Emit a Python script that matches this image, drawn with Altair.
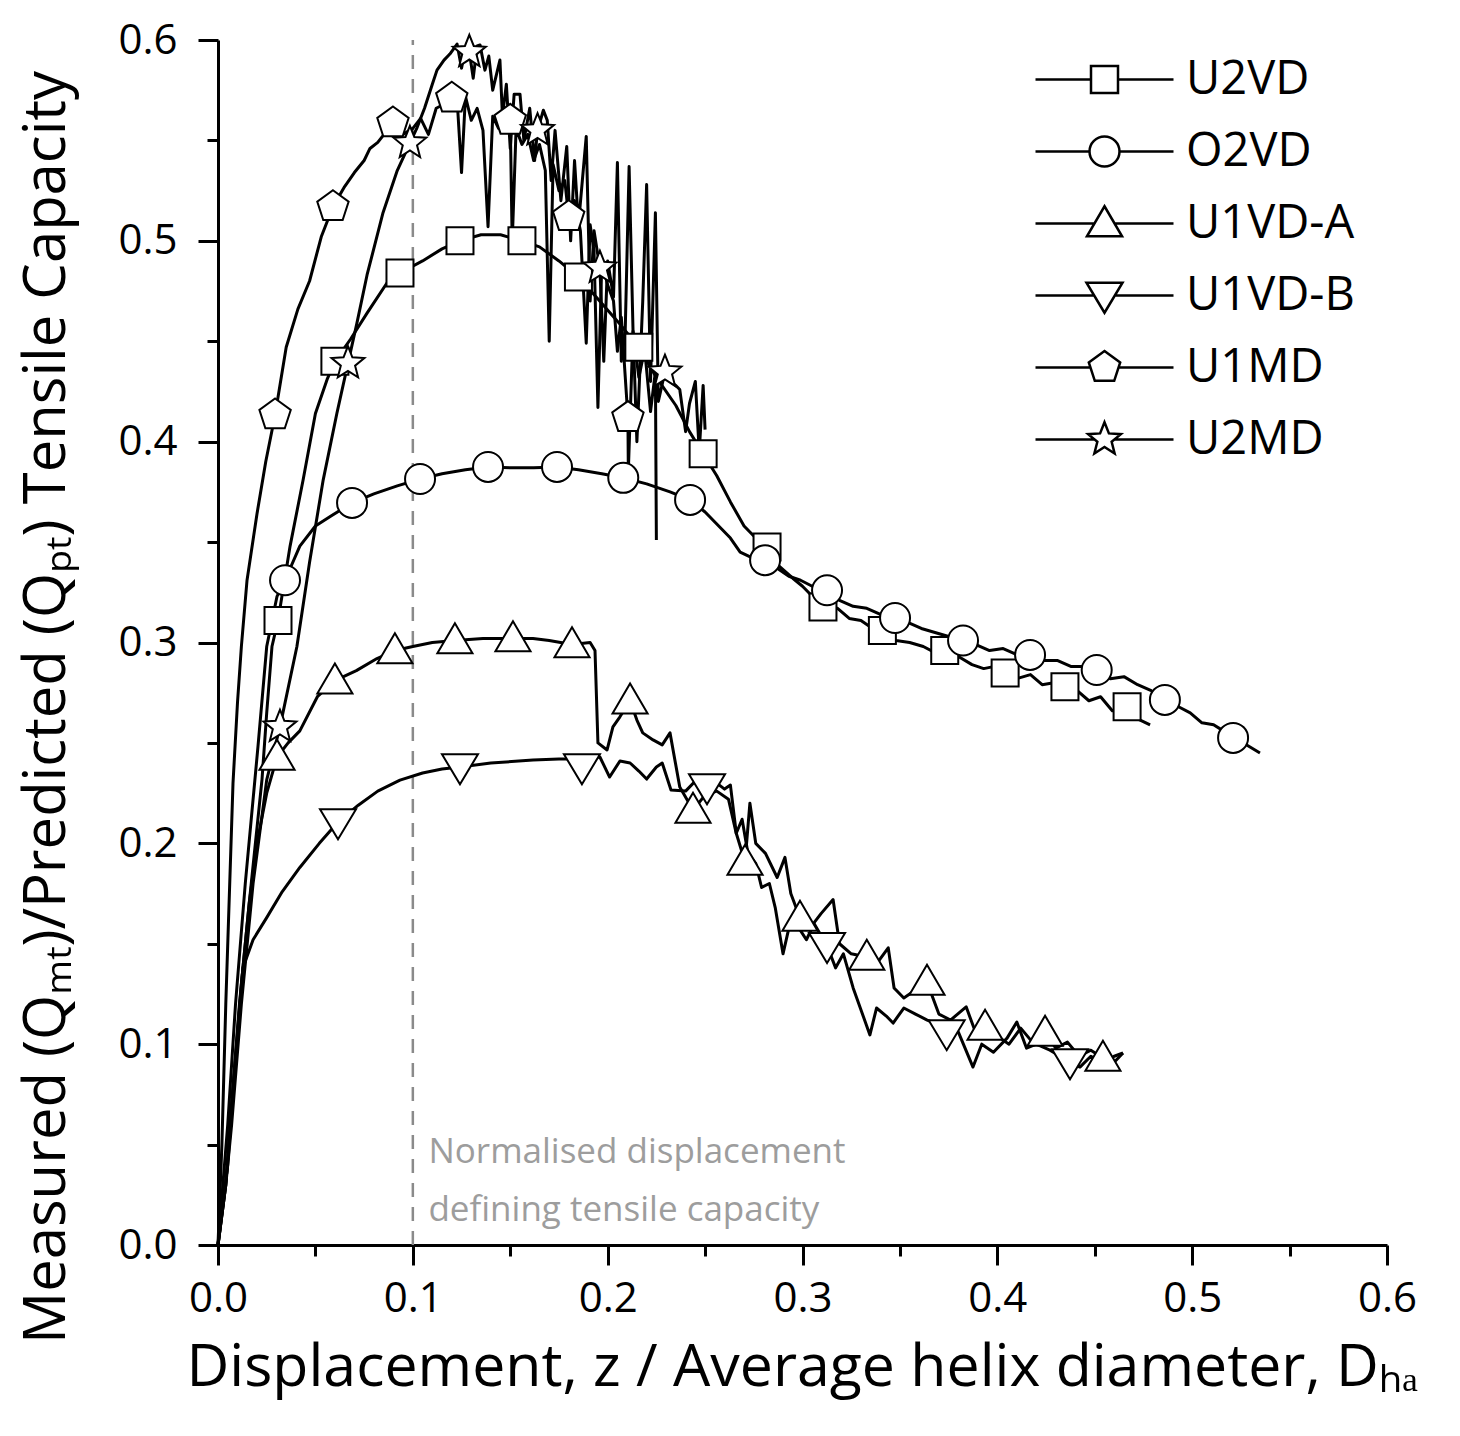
import altair as alt
import pandas as pd

SERIES = ["U2VD", "O2VD", "U1VD-A", "U1VD-B", "U1MD", "U2MD"]

# ---------------- measured curves (x = z/Dha, y = Qmt/Qpt) ----------------
U2VD_line = [(0.000, 0.000), (0.004, 0.030), (0.007, 0.070), (0.011, 0.120), (0.016, 0.170),
             (0.0226, 0.232), (0.025, 0.265), (0.0277, 0.298), (0.0308, 0.311), (0.037, 0.348),
             (0.0437, 0.381), (0.050, 0.414), (0.056, 0.431), (0.060, 0.440), (0.068, 0.451),
             (0.0765, 0.464), (0.0867, 0.479), (0.0934, 0.484), (0.105, 0.490), (0.115, 0.496),
             (0.1242, 0.500), (0.135, 0.503), (0.145, 0.503), (0.156, 0.500), (0.165, 0.497),
             (0.175, 0.490), (0.185, 0.482), (0.195, 0.471), (0.205, 0.460), (0.216, 0.447),
             (0.225, 0.432), (0.235, 0.418), (0.242, 0.405), (0.249, 0.394), (0.256, 0.383),
             (0.263, 0.370), (0.270, 0.358), (0.276, 0.352), (0.2818, 0.3476), (0.288, 0.338),
             (0.295, 0.332), (0.300, 0.328), (0.306, 0.322), (0.3105, 0.3177), (0.318, 0.317),
             (0.324, 0.312), (0.330, 0.311), (0.336, 0.307), (0.341, 0.306), (0.348, 0.301),
             (0.355, 0.300), (0.362, 0.298), (0.368, 0.295), (0.373, 0.296), (0.380, 0.293),
             (0.387, 0.289), (0.393, 0.287), (0.398, 0.288), (0.404, 0.2848), (0.410, 0.282),
             (0.417, 0.284), (0.423, 0.279), (0.429, 0.280), (0.4347, 0.278), (0.441, 0.276),
             (0.447, 0.271), (0.453, 0.273), (0.459, 0.266), (0.4666, 0.268), (0.472, 0.262),
             (0.4784, 0.259)]

O2VD_line = [(0.000, 0.000), (0.005, 0.060), (0.009, 0.120), (0.014, 0.180), (0.0205, 0.248),
             (0.025, 0.298), (0.0303, 0.323), (0.0344, 0.331), (0.042, 0.348), (0.050, 0.358),
             (0.058, 0.363), (0.0688, 0.3695), (0.080, 0.374), (0.092, 0.378), (0.1037, 0.3814),
             (0.115, 0.384), (0.127, 0.386), (0.1386, 0.3874), (0.150, 0.387), (0.162, 0.387),
             (0.174, 0.3874), (0.185, 0.386), (0.197, 0.384), (0.208, 0.382), (0.220, 0.379),
             (0.232, 0.375), (0.2423, 0.371), (0.250, 0.365), (0.257, 0.358), (0.263, 0.352),
             (0.268, 0.345), (0.2745, 0.342), (0.2808, 0.341), (0.287, 0.337), (0.293, 0.333),
             (0.299, 0.331), (0.305, 0.328), (0.3126, 0.326), (0.319, 0.321), (0.326, 0.318),
             (0.333, 0.317), (0.340, 0.314), (0.3475, 0.3122), (0.354, 0.310), (0.361, 0.307),
             (0.368, 0.305), (0.375, 0.303), (0.3824, 0.301), (0.389, 0.299), (0.396, 0.296),
             (0.403, 0.297), (0.410, 0.294), (0.4168, 0.2938), (0.424, 0.291), (0.431, 0.291),
             (0.438, 0.288), (0.445, 0.288), (0.451, 0.2863), (0.458, 0.282), (0.465, 0.283),
             (0.472, 0.279), (0.479, 0.276), (0.486, 0.2714), (0.493, 0.268), (0.499, 0.265),
             (0.505, 0.260), (0.511, 0.259), (0.516, 0.256), (0.521, 0.2525), (0.528, 0.249),
             (0.5348, 0.245)]

U1VDA_line = [(0.000, 0.000), (0.004, 0.030), (0.007, 0.070), (0.012, 0.130), (0.016, 0.170),
              (0.020, 0.200), (0.025, 0.225), (0.0303, 0.243), (0.036, 0.250), (0.042, 0.256),
              (0.051, 0.273), (0.060, 0.281), (0.071, 0.286), (0.0816, 0.292), (0.0908, 0.296),
              (0.100, 0.298), (0.110, 0.300), (0.1216, 0.301), (0.136, 0.302), (0.1514, 0.302),
              (0.1617, 0.302), (0.170, 0.301), (0.1817, 0.299), (0.191, 0.300), (0.1935, 0.296),
              (0.195, 0.250), (0.1997, 0.2465), (0.2027, 0.258), (0.2063, 0.263), (0.2115, 0.271),
              (0.215, 0.2614), (0.218, 0.255), (0.2233, 0.2515), (0.228, 0.249), (0.232, 0.255),
              (0.237, 0.228), (0.2438, 0.2166), (0.250, 0.224), (0.256, 0.226), (0.262, 0.222),
              (0.266, 0.205), (0.2705, 0.1907), (0.273, 0.220), (0.276, 0.200), (0.281, 0.195),
              (0.287, 0.183), (0.291, 0.193), (0.294, 0.175), (0.2987, 0.1628), (0.304, 0.158),
              (0.3095, 0.165), (0.3157, 0.172), (0.319, 0.150), (0.325, 0.145), (0.333, 0.1434),
              (0.338, 0.140), (0.344, 0.148), (0.347, 0.128), (0.352, 0.123), (0.358, 0.127),
              (0.3639, 0.131), (0.370, 0.115), (0.376, 0.112), (0.384, 0.1186), (0.388, 0.108),
              (0.3937, 0.1086), (0.400, 0.104), (0.406, 0.100), (0.412, 0.108), (0.418, 0.101),
              (0.4245, 0.1056), (0.430, 0.098), (0.436, 0.101), (0.442, 0.094), (0.448, 0.097),
              (0.4542, 0.0931), (0.459, 0.090), (0.4645, 0.0956)]

U1VDB_line = [(0.000, 0.000), (0.005, 0.040), (0.008, 0.080), (0.0128, 0.138), (0.018, 0.152),
              (0.025, 0.163), (0.033, 0.176), (0.042, 0.188), (0.052, 0.200), (0.0616, 0.2106),
              (0.072, 0.219), (0.082, 0.226), (0.0934, 0.2315), (0.105, 0.235), (0.115, 0.237),
              (0.1242, 0.238), (0.140, 0.240), (0.1617, 0.2415), (0.175, 0.242), (0.1868, 0.242),
              (0.196, 0.243), (0.201, 0.233), (0.2063, 0.241), (0.2115, 0.240), (0.216, 0.236),
              (0.220, 0.232), (0.225, 0.238), (0.228, 0.240), (0.2325, 0.2266), (0.240, 0.226),
              (0.246, 0.232), (0.251, 0.228), (0.256, 0.230), (0.260, 0.227), (0.263, 0.229),
              (0.266, 0.205), (0.269, 0.212), (0.272, 0.195), (0.276, 0.190), (0.279, 0.178),
              (0.283, 0.180), (0.286, 0.168), (0.290, 0.145), (0.294, 0.162), (0.298, 0.158),
              (0.302, 0.152), (0.306, 0.160), (0.3126, 0.149), (0.317, 0.138), (0.321, 0.145),
              (0.326, 0.128), (0.3346, 0.1046), (0.338, 0.118), (0.343, 0.114), (0.3465, 0.1105),
              (0.352, 0.118), (0.358, 0.115), (0.364, 0.112), (0.369, 0.110), (0.374, 0.1056),
              (0.380, 0.106), (0.3875, 0.0886), (0.392, 0.100), (0.398, 0.096), (0.405, 0.103),
              (0.410, 0.111), (0.415, 0.098), (0.420, 0.100), (0.427, 0.097), (0.4373, 0.0911),
              (0.4424, 0.0886), (0.448, 0.094), (0.455, 0.090), (0.460, 0.094), (0.4645, 0.0956)]

U1MD_line = [(0.000, 0.000), (0.002, 0.050), (0.004, 0.120), (0.0077, 0.230), (0.010, 0.270),
             (0.012, 0.298), (0.0149, 0.331), (0.020, 0.364), (0.0245, 0.390), (0.0293, 0.4133),
             (0.035, 0.447), (0.041, 0.466), (0.047, 0.480), (0.053, 0.502), (0.059, 0.517),
             (0.065, 0.527), (0.070, 0.534), (0.075, 0.540), (0.078, 0.546), (0.082, 0.549),
             (0.0898, 0.5587), (0.095, 0.553), (0.100, 0.556), (0.104, 0.561), (0.108, 0.553),
             (0.112, 0.566), (0.116, 0.568), (0.120, 0.571), (0.123, 0.566), (0.125, 0.534),
             (0.127, 0.572), (0.130, 0.560), (0.133, 0.566), (0.136, 0.555), (0.1386, 0.507),
             (0.141, 0.562), (0.144, 0.556), (0.147, 0.561), (0.150, 0.560), (0.151, 0.499),
             (0.153, 0.556), (0.156, 0.548), (0.159, 0.553), (0.162, 0.540), (0.165, 0.548),
             (0.168, 0.535), (0.170, 0.450), (0.172, 0.538), (0.175, 0.525), (0.178, 0.530),
             (0.180, 0.512), (0.183, 0.520), (0.186, 0.505), (0.189, 0.449), (0.191, 0.508),
             (0.193, 0.495), (0.195, 0.417), (0.197, 0.490), (0.200, 0.478), (0.203, 0.470),
             (0.205, 0.445), (0.207, 0.462), (0.2104, 0.412), (0.2106, 0.385), (0.213, 0.455),
             (0.216, 0.432), (0.219, 0.446), (0.222, 0.415), (0.2245, 0.435), (0.225, 0.351)]

U2MD_line = [(0.000, 0.000), (0.004, 0.030), (0.007, 0.060), (0.012, 0.120), (0.018, 0.180),
             (0.025, 0.2316), (0.0318, 0.258), (0.0405, 0.298), (0.047, 0.340), (0.054, 0.381),
             (0.061, 0.414), (0.0667, 0.439), (0.0713, 0.459), (0.0765, 0.483), (0.0847, 0.514),
             (0.092, 0.535), (0.0985, 0.5487), (0.102, 0.556), (0.106, 0.566), (0.110, 0.578),
             (0.1124, 0.585), (0.116, 0.590), (0.119, 0.593), (0.1227, 0.598), (0.125, 0.586),
             (0.127, 0.596), (0.129, 0.594), (0.131, 0.581), (0.133, 0.597), (0.1345, 0.5975),
             (0.137, 0.585), (0.139, 0.592), (0.141, 0.575), (0.1447, 0.590), (0.146, 0.562),
             (0.148, 0.578), (0.150, 0.546), (0.152, 0.573), (0.155, 0.573), (0.157, 0.550),
             (0.160, 0.566), (0.1625, 0.540), (0.164, 0.555), (0.167, 0.565), (0.169, 0.560),
             (0.171, 0.530), (0.173, 0.555), (0.176, 0.520), (0.179, 0.547), (0.181, 0.500),
             (0.183, 0.540), (0.185, 0.508), (0.187, 0.530), (0.189, 0.552), (0.191, 0.470),
             (0.193, 0.505), (0.196, 0.4865), (0.198, 0.440), (0.200, 0.490), (0.203, 0.472),
             (0.205, 0.539), (0.207, 0.440), (0.209, 0.455), (0.211, 0.537), (0.213, 0.456),
             (0.215, 0.400), (0.218, 0.470), (0.220, 0.528), (0.222, 0.430), (0.2245, 0.514),
             (0.226, 0.420), (0.2294, 0.4347), (0.232, 0.430), (0.235, 0.428), (0.237, 0.426),
             (0.240, 0.405), (0.242, 0.419), (0.245, 0.430), (0.247, 0.395), (0.249, 0.428),
             (0.250, 0.406)]

# ---------------- marker positions ----------------
U2VD_marks = [(0.0308, 0.311), (0.060, 0.440), (0.0934, 0.484), (0.1242, 0.500), (0.156, 0.500),
              (0.185, 0.482), (0.216, 0.447), (0.249, 0.394), (0.2818, 0.3476), (0.3105, 0.3177),
              (0.341, 0.306), (0.373, 0.296), (0.404, 0.2848), (0.4347, 0.278), (0.4666, 0.268)]
O2VD_marks = [(0.0344, 0.331), (0.0688, 0.3695), (0.1037, 0.3814), (0.1386, 0.3874), (0.174, 0.3874),
              (0.208, 0.382), (0.2423, 0.371), (0.2808, 0.341), (0.3126, 0.326), (0.3475, 0.3122),
              (0.3824, 0.301), (0.4168, 0.2938), (0.451, 0.2863), (0.486, 0.2714), (0.521, 0.2525)]
U1VDA_marks = [(0.0303, 0.243), (0.060, 0.281), (0.0908, 0.296), (0.1216, 0.301), (0.1514, 0.302),
               (0.1817, 0.299), (0.2115, 0.271), (0.2438, 0.2166), (0.2705, 0.1907), (0.2987, 0.1628),
               (0.333, 0.1434), (0.3639, 0.131), (0.3937, 0.1086), (0.4245, 0.1056), (0.4542, 0.0931)]
U1VDB_marks = [(0.0616, 0.2106), (0.1242, 0.238), (0.1868, 0.238), (0.251, 0.228), (0.3126, 0.149),
               (0.374, 0.1056), (0.4373, 0.0911)]
U1MD_marks = [(0.0293, 0.4133), (0.059, 0.517), (0.0898, 0.5587), (0.120, 0.571), (0.150, 0.560),
              (0.180, 0.512), (0.2104, 0.412)]
U2MD_marks = [(0.0318, 0.258), (0.0667, 0.439), (0.0985, 0.5487), (0.129, 0.594), (0.164, 0.555),
              (0.196, 0.4865), (0.2294, 0.4347)]

ANNOT_TEXT = ["Normalised displacement", "defining tensile capacity"]
ANNOT_X = [0.108, 0.108]
ANNOT_Y = [0.0463, 0.0174]

THRESHOLD_X = 0.1
MAJOR_TICKS = [0.0, 0.1, 0.2, 0.3, 0.4, 0.5, 0.6]
MINOR_TICKS = [0.05, 0.15, 0.25, 0.35, 0.45, 0.55]

# ---------------- build tables ----------------
line_sets = [("U2VD", U2VD_line), ("O2VD", O2VD_line), ("U1VD-A", U1VDA_line),
             ("U1VD-B", U1VDB_line), ("U1MD", U1MD_line), ("U2MD", U2MD_line)]
mark_sets = [("U2VD", U2VD_marks), ("O2VD", O2VD_marks), ("U1VD-A", U1VDA_marks),
             ("U1VD-B", U1VDB_marks), ("U1MD", U1MD_marks), ("U2MD", U2MD_marks)]

line_rows = []
for name, pts in line_sets:
    for i, (x, y) in enumerate(pts):
        line_rows.append({"series": name, "x": x, "y": y, "order": i})
lines_df = pd.DataFrame(line_rows)

mark_rows = []
for name, pts in mark_sets:
    for x, y in pts:
        mark_rows.append({"series": name, "x": x, "y": y})
marks_df = pd.DataFrame(mark_rows)

annot_df = pd.DataFrame({"x": ANNOT_X, "y": ANNOT_Y, "text": ANNOT_TEXT})
rule_df = pd.DataFrame({"x": [THRESHOLD_X], "y": [0.0], "y2": [0.6]})

# ---------------- symbol shapes ----------------
SHAPES = {
    "U2VD": "M-0.9,-0.9L0.9,-0.9L0.9,0.9L-0.9,0.9Z",
    "O2VD": "M-1,0A1,1,0,1,1,1,0A1,1,0,1,1,-1,0Z",
    "U1VD-A": "M0,-1.15L1.17,0.85L-1.17,0.85Z",
    "U1VD-B": "M0,1.15L1.2,-0.85L-1.2,-0.85Z",
    "U1MD": "M0,-1.1L1.046,-0.34L0.647,0.89L-0.647,0.89L-1.046,-0.34Z",
    "U2MD": "M0,-1.15L0.294,-0.405L1.094,-0.355L0.476,0.155L0.676,0.93L0,0.5L-0.676,0.93L-0.476,0.155L-1.094,-0.355L-0.294,-0.405Z",
}
HALF = {"U2VD": 0.9, "O2VD": 1.0, "U1VD-A": 0.67, "U1VD-B": 0.69, "U1MD": 0.94, "U2MD": 0.66}
LEGEND_SHAPES = {k: f"M-4.6,0L-{HALF[k]},0M{HALF[k]},0L4.6,0" + v for k, v in SHAPES.items()}

FONT = "Open Sans"
xscale = alt.Scale(domain=[0, 0.6], nice=False, zero=False)
yscale = alt.Scale(domain=[0, 0.6], nice=False, zero=False)

common_axis = dict(grid=False, domainColor="black", domainWidth=3, tickColor="black",
                   tickWidth=3, labelFont=FONT, labelColor="black", labelFontSize=42,
                   titleFont=FONT, titleFontWeight="normal",
                   titleColor="black", labelFlush=False, labelOverlap=False)

x_major = alt.Axis(values=MAJOR_TICKS, format=".1f", orient="bottom", tickSize=20,
                   labelPadding=13, titleFontSize=59,
                   title="Displacement, z / Average helix diameter, D\u2095\u2090",
                   titleX=584, titleY=122, titleAlign="center", titleBaseline="middle",
                   **common_axis)
y_major = alt.Axis(values=MAJOR_TICKS, format=".1f", orient="left", tickSize=20,
                   labelPadding=21, titleFontSize=58,
                   title="Measured (Q\u2098\u209c)/Predicted (Q\u209a\u209c) Tensile Capacity",
                   titleX=-171, titleY=667, titleAlign="center", titleBaseline="middle",
                   **common_axis)
x_minor = alt.Axis(values=MINOR_TICKS, orient="bottom", tickSize=11, labels=False,
                   domain=False, title=None, grid=False, tickColor="black", tickWidth=3)
y_minor = alt.Axis(values=MINOR_TICKS, orient="left", tickSize=11, labels=False,
                   domain=False, title=None, grid=False, tickColor="black", tickWidth=3)

lines = alt.Chart(lines_df).mark_line(color="black", strokeWidth=3, strokeJoin="round").encode(
    x=alt.X("x:Q", scale=xscale, axis=x_major),
    y=alt.Y("y:Q", scale=yscale, axis=y_major),
    detail="series:N",
    order="order:Q",
)

threshold = alt.Chart(rule_df).mark_rule(color="#8a8a8a", strokeWidth=2.5,
                                         strokeDash=[14, 10]).encode(
    x=alt.X("x:Q", scale=xscale, axis=x_minor),
    y=alt.Y("y:Q", scale=yscale, axis=y_minor),
    y2="y2:Q",
)

points = alt.Chart(marks_df).mark_point(filled=True, fill="white", stroke="black",
                                        strokeWidth=2, size=900, opacity=1).encode(
    x=alt.X("x:Q", scale=xscale, axis=None),
    y=alt.Y("y:Q", scale=yscale, axis=None),
    shape=alt.Shape("series:N", scale=alt.Scale(domain=SERIES, range=[SHAPES[s] for s in SERIES]),
                    legend=None),
)

legend_layer = alt.Chart(marks_df).transform_filter("false").mark_point(
    filled=False, color="black", strokeWidth=2.5, size=900, opacity=1).encode(
    x=alt.X("x:Q", scale=xscale, axis=None),
    y=alt.Y("y:Q", scale=yscale, axis=None),
    shape=alt.Shape("series:N",
                    scale=alt.Scale(domain=SERIES, range=[LEGEND_SHAPES[s] for s in SERIES]),
                    legend=alt.Legend(title=None, orient="none", legendX=863, legendY=16,
                                      symbolSize=900, symbolStrokeWidth=2.5,
                                      symbolStrokeColor="black", symbolOpacity=1,
                                      labelFont=FONT, labelFontSize=47, labelColor="black",
                                      labelOffset=58, labelLimit=500, rowPadding=24,
                                      padding=0)),
)

annot = alt.Chart(annot_df).mark_text(align="left", baseline="middle", fontSize=35,
                                      font=FONT, color="#9d9d9d").encode(
    x=alt.X("x:Q", scale=xscale, axis=None),
    y=alt.Y("y:Q", scale=yscale, axis=None),
    text="text:N",
)

chart = alt.layer(threshold, lines, points, legend_layer, annot).resolve_scale(
    shape="independent"
).resolve_axis(
    x="independent", y="independent"
).properties(
    width=1169, height=1205,
    autosize=alt.AutoSizeParams(type="none"),
    padding={"left": 218, "top": 40, "right": 73, "bottom": 191},
    background="white",
).configure_view(stroke=None)

chart.save("out.html", embed_options={"renderer": "svg", "actions": False})
